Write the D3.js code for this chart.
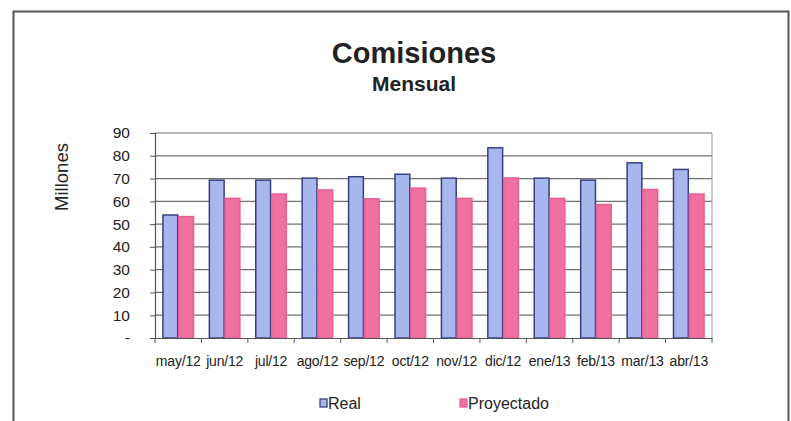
<!DOCTYPE html>
<html>
<head>
<meta charset="utf-8">
<script src="https://cdn.jsdelivr.net/npm/d3@7"></script>
<style>
body { margin: 0; background: #fff; }
text { font-family: "Liberation Sans", Arial, sans-serif; fill: #222; }
</style>
</head>
<body>
<svg id="chart" width="791" height="421"></svg>
<script>
var months = ["may/12", "jun/12", "jul/12", "ago/12", "sep/12", "oct/12", "nov/12", "dic/12", "ene/13", "feb/13", "mar/13", "abr/13"];
var real = [54, 69.3, 69.3, 70.2, 70.8, 71.9, 70.2, 83.5, 70.2, 69.3, 76.9, 74];
var proyectado = [53.3, 61.3, 63.2, 65, 61.1, 65.8, 61.3, 70.3, 61.3, 58.6, 65.2, 63.2];
var seriesNames = ["Real", "Proyectado"];
var yTicks = [0, 10, 20, 30, 40, 50, 60, 70, 80, 90];

var fills = { "Real": "#a8b7ee", "Proyectado": "#f0709f" };
var strokes = { "Real": "#3a3f80", "Proyectado": "#e4609a" };

var svg = d3.select("#chart");

// outer frame
svg.append("rect")
    .attr("x", 13.5).attr("y", 11.5)
    .attr("width", 775).attr("height", 420)
    .attr("fill", "none").attr("stroke", "#555").attr("stroke-width", 2);

var plot = { left: 155, right: 712, top: 133, bottom: 338 };

var x = d3.scaleBand().domain(months).range([plot.left, plot.right]).paddingInner(0).paddingOuter(0);
var xs = d3.scaleBand().domain(seriesNames).range([0, x.bandwidth()]).paddingInner(0).paddingOuter(0.47);
var y = d3.scaleLinear().domain([0, 90]).range([plot.bottom, plot.top]);

// gridlines
svg.append("g").selectAll("line").data(yTicks.slice(1)).enter().append("line")
    .attr("x1", plot.left).attr("x2", plot.right)
    .attr("y1", function(d) { return y(d); }).attr("y2", function(d) { return y(d); })
    .attr("stroke", "#707070").attr("stroke-width", 1.2);

// right border of plot
svg.append("line")
    .attr("x1", plot.right).attr("x2", plot.right)
    .attr("y1", plot.top).attr("y2", plot.bottom)
    .attr("stroke", "#999").attr("stroke-width", 1);

var rows = months.map(function(m, i) { return { month: m, Real: real[i], Proyectado: proyectado[i] }; });

var groups = svg.append("g").selectAll("g").data(rows).enter().append("g")
    .attr("transform", function(d) { return "translate(" + x(d.month) + ",0)"; });

groups.selectAll("rect")
    .data(function(d) { return seriesNames.map(function(s) { return { key: s, value: d[s] }; }); })
    .enter().append("rect")
    .attr("x", function(d) { return xs(d.key) + 0.5; })
    .attr("width", xs.bandwidth() - 1)
    .attr("y", function(d) { return y(d.value); })
    .attr("height", function(d) { return y(0) - y(d.value); })
    .attr("fill", function(d) { return fills[d.key]; })
    .attr("stroke", function(d) { return strokes[d.key]; })
    .attr("stroke-width", 1.5);

// y axis
var yAxis = d3.axisLeft(y).tickValues(yTicks).tickSize(5)
    .tickFormat(function(d) { return d === 0 ? "-" : d; });
var yg = svg.append("g").attr("transform", "translate(" + plot.left + ",0)").call(yAxis);
yg.select(".domain").attr("stroke", "#555").attr("stroke-width", 1.2);
yg.selectAll(".tick line").attr("stroke", "#555");
yg.selectAll(".tick text").attr("x", -25).style("font-size", "15.5px")
    .style("font-family", "Liberation Sans, Arial, sans-serif").attr("fill", "#333");

// x axis
var xAxis = d3.axisBottom(x).tickSize(0).tickSizeOuter(0);
var xg = svg.append("g").attr("transform", "translate(0," + plot.bottom + ")").call(xAxis);
xg.select(".domain").attr("stroke", "#555").attr("stroke-width", 1.2);
xg.selectAll(".tick text").attr("y", 18).attr("dy", "0.71em").style("font-size", "14px")
    .style("font-family", "Liberation Sans, Arial, sans-serif").attr("fill", "#333")
    .style("letter-spacing", "-0.2px");

// x separators between categories
svg.append("g").selectAll("line").data(months.concat(["end"])).enter().append("line")
    .attr("x1", function(d, i) { return plot.left + i * x.step(); })
    .attr("x2", function(d, i) { return plot.left + i * x.step(); })
    .attr("y1", plot.bottom).attr("y2", plot.bottom + 5)
    .attr("stroke", "#555");

// titles
svg.append("text").attr("x", 414).attr("y", 63).attr("text-anchor", "middle")
    .style("font-size", "29px").style("font-weight", "bold").text("Comisiones");
svg.append("text").attr("x", 414).attr("y", 91).attr("text-anchor", "middle")
    .style("font-size", "21px").style("font-weight", "bold").text("Mensual");

// y label
svg.append("text").attr("transform", "translate(68,177) rotate(-90)")
    .attr("text-anchor", "middle").style("font-size", "18.5px").attr("fill", "#333").text("Millones");

// legend
var legendX = [320, 460];
var legend = svg.append("g").selectAll("g").data(seriesNames).enter().append("g")
    .attr("transform", function(d, i) { return "translate(" + legendX[i] + ",399)"; });
legend.append("rect").attr("width", 7).attr("height", 8)
    .attr("fill", function(d) { return fills[d]; })
    .attr("stroke", function(d) { return strokes[d]; }).attr("stroke-width", 1.3);
legend.append("text").attr("x", 8).attr("y", 10).style("font-size", "16px")
    .attr("fill", "#333").text(function(d) { return d; });
</script>
</body>
</html>
